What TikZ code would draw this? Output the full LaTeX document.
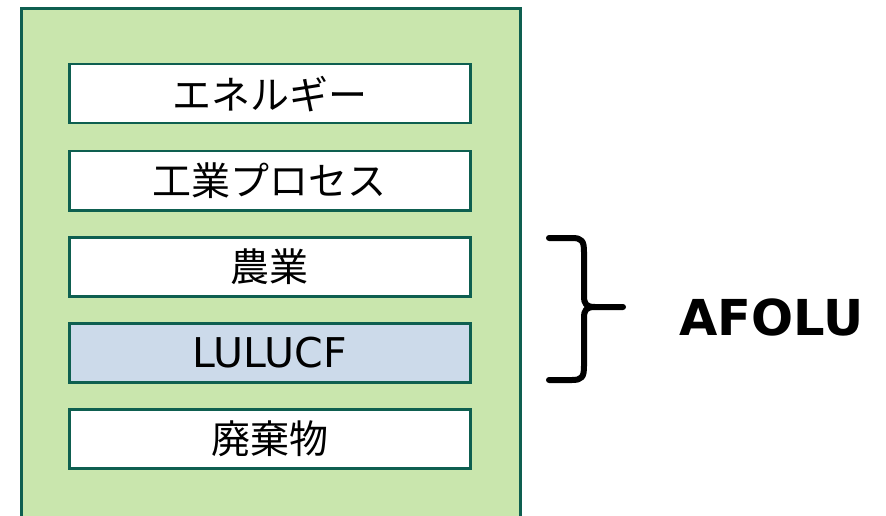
\documentclass[tikz,border=0pt]{standalone}
\usepackage{fontspec}
\newfontfamily\jp{Noto Sans CJK JP}
\newfontfamily\lat{DejaVu Sans}
\definecolor{frame}{HTML}{0E5F50}
\definecolor{outerfill}{HTML}{C9E6AD}
\definecolor{lufill}{HTML}{CCDAEA}
\tikzset{
  sector/.style={draw=frame, line width=2.5pt, fill=white, minimum width=401pt, minimum height=59pt, inner sep=0pt, font=\jp\fontsize{39}{44}\selectfont, anchor=north west},
}
\begin{document}
\begin{tikzpicture}[x=1pt,y=-1pt]
\useasboundingbox (0,0) rectangle (886,516);
\begin{scope}
\clip (0,0) rectangle (886,516);
\node[draw=frame, line width=3pt, fill=outerfill, minimum width=499pt, minimum height=530pt, anchor=north west] (outer) at (20,7) {};
\end{scope}
\node[sector] (energy) at (68,63) {エネルギー};
\node[sector] (ippu) at (68,150) {工業プロセス};
\node[sector] (agri) at (68,236) {農業};
\node[sector, fill=lufill, font=\lat\fontsize{41}{46}\selectfont] (lulucf) at (68,322) {LULUCF};
\node[sector] (waste) at (68,408) {廃棄物};
\node[font=\fontspec{DejaVu Sans Bold}\fontsize{49.5}{56}\selectfont, anchor=west] (afolu) at (676,317) {AFOLU};
\draw[line width=6pt, line cap=round, line join=round] (549,238) -- (572,238) .. controls (582,238) and (584,241) .. (584,252) -- (584,296) .. controls (584,304) and (586,307) .. (595,307) -- (623,307)
  (595,307) .. controls (586,307) and (584,310) .. (584,318) -- (584,366) .. controls (584,377) and (582,380) .. (572,380) -- (549,380);
\end{tikzpicture}
\end{document}
